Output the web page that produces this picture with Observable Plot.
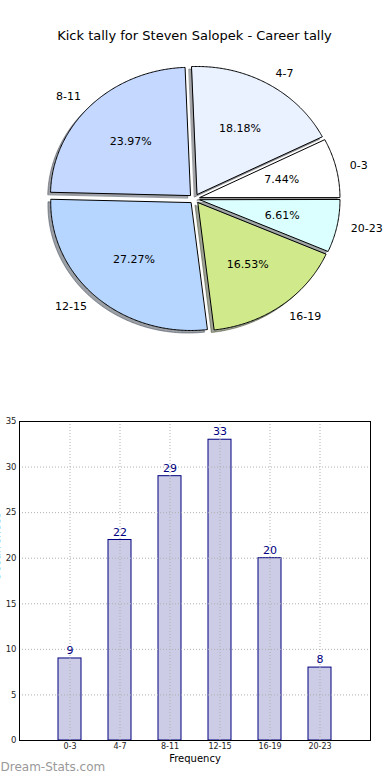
<!DOCTYPE html>
<html>
<head>
<meta charset="utf-8">
<script src="https://cdn.jsdelivr.net/npm/d3@7"></script>
<script src="https://cdn.jsdelivr.net/npm/@observablehq/plot@0.6"></script>
<style>
  html, body { margin: 0; padding: 0; background: #fff; }
  #chart svg { display: block; }
</style>
</head>
<body>
<div id="chart"></div>
<script>
// ---- data ----
const title = "Kick tally for Steven Salopek - Career tally";
const categories = ["0-3", "4-7", "8-11", "12-15", "16-19", "20-23"];
const counts = [9, 22, 29, 33, 20, 8];
const sliceColors = ["#ffffff", "#eaf1ff", "#c5d8ff", "#b6d6ff", "#d0ea8b", "#dbffff"];
const yTicks = [0, 5, 10, 15, 20, 25, 30, 35];
const xLabel = "Frequency";
const yLabel = "Occurrences";
const watermark = "Dream-Stats.com";

// ---- pie geometry (derived from counts) ----
const explode = 0.04;
const shadowOff = [-0.02, -0.02];
const total = d3.sum(counts);
let acc = 0;
const slices = counts.map((c, i) => {
  const a0 = acc, a1 = acc + c / total * 2 * Math.PI;
  acc = a1;
  const mid = (a0 + a1) / 2;
  return {cat: categories[i], count: c, color: sliceColors[i], a0, a1, mid,
    ox: explode * Math.cos(mid), oy: explode * Math.sin(mid),
    pct: (c / total * 100).toFixed(2) + "%"};
});
function wedge(s, dx = 0, dy = 0) {
  const pts = [{x: s.ox + dx, y: s.oy + dy}];
  const n = Math.max(4, Math.ceil((s.a1 - s.a0) / 0.01));
  for (let k = 0; k <= n; k++) {
    const t = s.a0 + (s.a1 - s.a0) * k / n;
    pts.push({x: s.ox + dx + Math.cos(t), y: s.oy + dy + Math.sin(t)});
  }
  return pts;
}
function darken(c, f) {
  const r = d3.rgb(c);
  return d3.rgb(r.r * f, r.g * f, r.b * f).formatHex();
}
const labelPts = slices.map(s => ({...s,
  lx: s.ox + 1.1 * Math.cos(s.mid), ly: s.oy + 1.1 * Math.sin(s.mid),
  px: s.ox + 0.6 * Math.cos(s.mid), py: s.oy + 0.6 * Math.sin(s.mid)}));

const font = "DejaVu Sans, Bitstream Vera Sans, sans-serif";

const pieMarks = [];
slices.forEach(s => pieMarks.push(Plot.line(wedge(s, shadowOff[0], shadowOff[1]),
  {x: "x", y: "y", curve: "linear-closed", fill: darken(s.color, 0.3), fillOpacity: 0.5,
   stroke: darken(s.color, 0.3), strokeOpacity: 0.5, strokeWidth: 1})));
slices.forEach(s => pieMarks.push(Plot.line(wedge(s),
  {x: "x", y: "y", curve: "linear-closed", fill: s.color, stroke: "#000", strokeWidth: 1})));
pieMarks.push(Plot.text(labelPts.filter(d => Math.cos(d.mid) >= 0),
  {x: "lx", y: "ly", text: "cat", textAnchor: "start", fontSize: 11, fill: "#000"}));
pieMarks.push(Plot.text(labelPts.filter(d => Math.cos(d.mid) < 0),
  {x: "lx", y: "ly", text: "cat", textAnchor: "end", fontSize: 11, fill: "#000"}));
pieMarks.push(Plot.text(labelPts,
  {x: "px", y: "py", text: "pct", textAnchor: "middle", fontSize: 11, fill: "#000"}));
pieMarks.push(Plot.text([title], {frameAnchor: "top", dy: -40, fontSize: 13, fill: "#000"}));

const pie = Plot.plot({
  width: 390, height: 390,
  marginLeft: 54, marginRight: 56, marginTop: 70.4, marginBottom: 63.8,
  style: {fontFamily: font, background: "#fff"},
  x: {domain: [-1, 1], axis: null},
  y: {domain: [-1, 1], axis: null},
  marks: pieMarks
});

// ---- bar chart ----
const barData = categories.map((c, i) => ({cat: c, value: counts[i]}));
const bars = Plot.plot({
  width: 390, height: 390,
  marginTop: 31, marginBottom: 40, marginLeft: 19, marginRight: 20,
  style: {fontFamily: font, background: "#fff"},
  x: {domain: categories, type: "band", paddingInner: 0.54, paddingOuter: 0.77, align: 0.5, axis: null},
  y: {domain: [0, 35], axis: null},
  marks: [
    Plot.barY(barData, {x: "cat", y: "value", fill: "#cccce6", stroke: "#000080", strokeWidth: 1}),
    Plot.gridX(categories, {stroke: "#b0b0b0", strokeOpacity: 1, strokeDasharray: "1,2"}),
    Plot.gridY(yTicks, {stroke: "#b0b0b0", strokeOpacity: 1, strokeDasharray: "1,2"}),
    Plot.text(barData, {x: "cat", y: "value", text: d => String(d.value), dy: -8, fontSize: 11, fill: "#000080"}),
    Plot.axisY(yTicks, {tickSize: 0, tickPadding: 3, fontSize: 8.5, fill: "#222", label: null}),
    Plot.axisX({tickSize: 0, tickPadding: 3, fontSize: 8, fill: "#222", label: null}),
    Plot.frame({stroke: "#000", strokeWidth: 1}),
    Plot.text([xLabel], {frameAnchor: "bottom", dy: 21, fontSize: 10, fill: "#000"}),
    Plot.text([yLabel], {frameAnchor: "left", dx: -23, rotate: -90, fontSize: 11, fill: "#000"}),
    Plot.text([watermark], {frameAnchor: "bottom-left", dx: -19, dy: 30, textAnchor: "start", fontSize: 12, fill: "#999"})
  ]
});

const root = document.getElementById("chart");
root.appendChild(pie);
root.appendChild(bars);
</script>
</body>
</html>
